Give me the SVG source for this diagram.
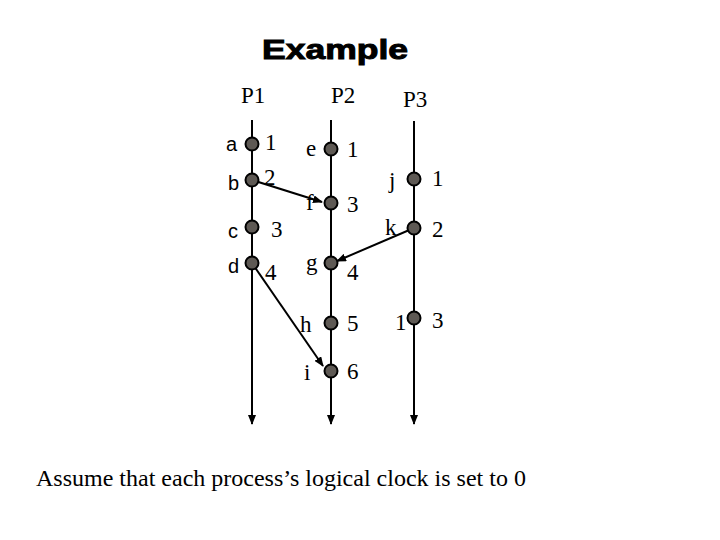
<svg xmlns="http://www.w3.org/2000/svg" width="720" height="540" viewBox="0 0 720 540">
<defs>
<marker id="ah" markerWidth="10" markerHeight="8" refX="9" refY="4" orient="auto" markerUnits="userSpaceOnUse">
<path d="M0,0 L10,4 L0,8 Z" fill="#000"/>
</marker>
<style>
.tl{stroke:#000;stroke-width:2;fill:none}
.msg{stroke:#000;stroke-width:2;fill:none}
.dot{fill:#5e5954;stroke:#000;stroke-width:2}
.t{font-family:"Liberation Serif","Times New Roman",serif;font-size:23px;fill:#000}
.s{font-family:"Liberation Sans",Arial,sans-serif;font-size:20px;fill:#000}
.title{font-family:"Liberation Sans",Arial,sans-serif;font-size:28px;font-weight:bold;fill:#000;stroke:#000;stroke-width:1}
</style>
</defs>
<rect width="720" height="540" fill="#fff"/>
<text class="title" x="262" y="59" textLength="146" lengthAdjust="spacingAndGlyphs">Example</text>
<g id="timelines">
<text class="t" x="241" y="103">P1</text>
<text class="t" x="331" y="103">P2</text>
<text class="t" x="403" y="107">P3</text>
<line class="tl" x1="252" y1="120" x2="252" y2="424" marker-end="url(#ah)"/>
<line class="tl" x1="331" y1="120" x2="331" y2="424" marker-end="url(#ah)"/>
<line class="tl" x1="414" y1="121" x2="414" y2="424" marker-end="url(#ah)"/>
</g>
<g id="connectors">
<line class="msg" x1="252" y1="180" x2="322" y2="202" marker-end="url(#ah)"/>
<line class="msg" x1="414" y1="228" x2="337" y2="261" marker-end="url(#ah)"/>
<line class="msg" x1="252" y1="263" x2="323" y2="366" marker-end="url(#ah)"/>
</g>
<g id="a"><circle class="dot" cx="252" cy="144" r="6.5"/><text class="s" x="226" y="151">a</text><text class="t" x="265" y="150">1</text></g>
<g id="b"><circle class="dot" cx="252" cy="180" r="6.5"/><text class="s" x="228" y="190">b</text><text class="t" x="264" y="185">2</text></g>
<g id="c"><circle class="dot" cx="252" cy="227" r="6.5"/><text class="s" x="228" y="238">c</text><text class="t" x="271" y="237">3</text></g>
<g id="d"><circle class="dot" cx="252" cy="263" r="6.5"/><text class="s" x="228" y="273">d</text><text class="t" x="265" y="280">4</text></g>
<g id="e"><circle class="dot" cx="331" cy="149" r="6.5"/><text class="t" x="306" y="156">e</text><text class="t" x="347" y="157">1</text></g>
<g id="f"><circle class="dot" cx="331" cy="203" r="6.5"/><text class="t" x="306" y="210">f</text><text class="t" x="347" y="212">3</text></g>
<g id="g"><circle class="dot" cx="331" cy="263" r="6.5"/><text class="t" x="306" y="270">g</text><text class="t" x="347" y="280">4</text></g>
<g id="h"><circle class="dot" cx="331" cy="323" r="6.5"/><text class="t" x="300" y="332">h</text><text class="t" x="347" y="331">5</text></g>
<g id="i"><circle class="dot" cx="331" cy="371" r="6.5"/><text class="t" x="304" y="380">i</text><text class="t" x="347" y="379">6</text></g>
<g id="j"><circle class="dot" cx="414" cy="179" r="6.5"/><text class="t" x="389" y="188">j</text><text class="t" x="432" y="186">1</text></g>
<g id="k"><circle class="dot" cx="414" cy="228" r="6.5"/><text class="t" x="385" y="235">k</text><text class="t" x="432" y="237">2</text></g>
<g id="l"><circle class="dot" cx="414" cy="318" r="6.5"/><text class="t" x="395" y="330">1</text><text class="t" x="432" y="328">3</text></g>
<text class="t" x="36" y="486" style="font-size:24px">Assume that each process’s logical clock is set to 0</text>
</svg>
